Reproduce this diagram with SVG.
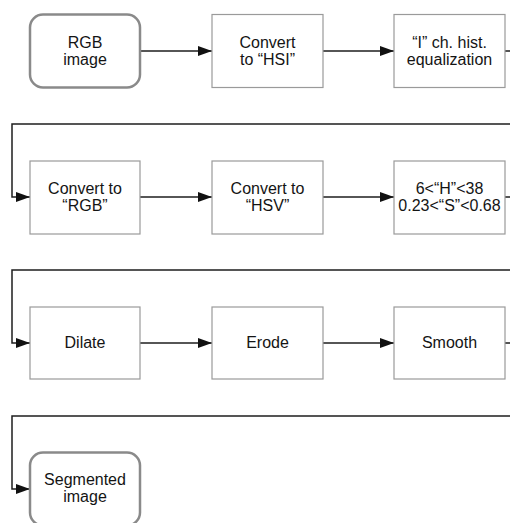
<svg xmlns="http://www.w3.org/2000/svg" width="510" height="523" viewBox="0 0 510 523">
  <style>
    .box { fill: #ffffff; stroke: #9a9a9a; stroke-width: 1.2; }
    .term { fill: #ffffff; stroke: #8a8a8a; stroke-width: 2.5; }
    .lbl { font-family: "Liberation Sans", Arial, sans-serif; font-size: 16px; fill: #141414; text-anchor: middle; }
    .edge { fill: none; stroke: #1e1e1e; stroke-width: 1.5; }
  </style>
  <defs>
    <marker id="arrow" viewBox="0 0 14 10" refX="14" refY="5" markerWidth="14" markerHeight="10" markerUnits="userSpaceOnUse" orient="auto">
      <path d="M0,0 L14,5 L0,10 Z" fill="#111111"/>
    </marker>
  </defs>
  <rect width="510" height="523" fill="#ffffff"/>

  <g id="connectors">
    <path class="edge" d="M140,51 H212" marker-end="url(#arrow)"/>
    <path class="edge" d="M323,51 H394" marker-end="url(#arrow)"/>
    <path class="edge" d="M505,51 H516 V124 H12 V197 H30" marker-end="url(#arrow)"/>
    <path class="edge" d="M140,197 H212" marker-end="url(#arrow)"/>
    <path class="edge" d="M323,197 H394" marker-end="url(#arrow)"/>
    <path class="edge" d="M505,197 H516 V270 H12 V343 H30" marker-end="url(#arrow)"/>
    <path class="edge" d="M140,343 H212" marker-end="url(#arrow)"/>
    <path class="edge" d="M323,343 H394" marker-end="url(#arrow)"/>
    <path class="edge" d="M505,343 H516 V416 H12 V489 H30" marker-end="url(#arrow)"/>
  </g>

  <g id="rgb-image">
    <rect class="term" x="30" y="14.5" width="110" height="73" rx="13"/>
    <text class="lbl" x="85" y="48">RGB</text>
    <text class="lbl" x="85" y="65">image</text>
  </g>
  <g id="to-hsi">
    <rect class="box" x="212" y="14.5" width="111" height="73"/>
    <text class="lbl" x="267.5" y="48">Convert</text>
    <text class="lbl" x="267.5" y="65">to “HSI”</text>
  </g>
  <g id="hist-eq">
    <rect class="box" x="394" y="14.5" width="111" height="73"/>
    <text class="lbl" x="449.5" y="48">“I” ch. hist.</text>
    <text class="lbl" x="449.5" y="65">equalization</text>
  </g>

  <g id="to-rgb">
    <rect class="box" x="30" y="161" width="110" height="73"/>
    <text class="lbl" x="85" y="194">Convert to</text>
    <text class="lbl" x="85" y="211">“RGB”</text>
  </g>
  <g id="to-hsv">
    <rect class="box" x="212" y="161" width="111" height="73"/>
    <text class="lbl" x="267.5" y="194">Convert to</text>
    <text class="lbl" x="267.5" y="211">“HSV”</text>
  </g>
  <g id="threshold">
    <rect class="box" x="394" y="161" width="111" height="73"/>
    <text class="lbl" x="449.5" y="194">6&lt;“H”&lt;38</text>
    <text class="lbl" x="449.5" y="211">0.23&lt;“S”&lt;0.68</text>
  </g>

  <g id="dilate">
    <rect class="box" x="30" y="307" width="110" height="72"/>
    <text class="lbl" x="85" y="348">Dilate</text>
  </g>
  <g id="erode">
    <rect class="box" x="212" y="307" width="111" height="72"/>
    <text class="lbl" x="267.5" y="348">Erode</text>
  </g>
  <g id="smooth">
    <rect class="box" x="394" y="307" width="111" height="72"/>
    <text class="lbl" x="449.5" y="348">Smooth</text>
  </g>

  <g id="segmented-image">
    <rect class="term" x="30" y="452.5" width="110" height="73" rx="13"/>
    <text class="lbl" x="85" y="485">Segmented</text>
    <text class="lbl" x="85" y="502">image</text>
  </g>
</svg>
